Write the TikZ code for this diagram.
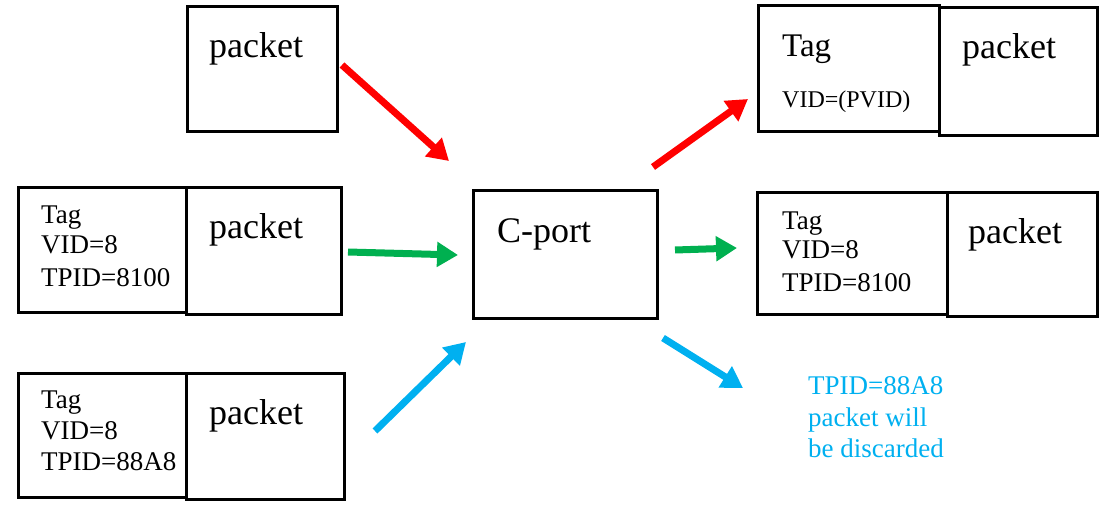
\documentclass[tikz,border=0pt]{standalone}
\usepackage{fontspec}
\setmainfont{Liberation Serif}
\usetikzlibrary{arrows.meta}
\definecolor{cred}{RGB}{255,0,0}
\definecolor{cgreen}{RGB}{0,176,80}
\definecolor{cblue}{RGB}{0,176,240}
\begin{document}
\begin{tikzpicture}[x=1pt,y=-1pt,
  box/.style={draw=black,line width=3pt,inner sep=0pt,fill=none},
  big/.style={anchor=base west,inner sep=0pt,font=\fontsize{36}{40}\selectfont},
  small/.style={anchor=base west,inner sep=0pt,font=\fontsize{27}{31}\selectfont},
  flow/.style={line width=7pt,-{Triangle[length=21pt,width=24pt]}}]
\useasboundingbox (0,0) rectangle (1120,513);
% boxes
\node[box,minimum width=150pt,minimum height=125pt] (p1) at (262,69.5) {};
\node[box,minimum width=168pt,minimum height=125pt] (t2) at (102,250.5) {};
\node[box,minimum width=155pt,minimum height=127pt] (p2) at (263.5,251.5) {};
\node[box,minimum width=168pt,minimum height=124pt] (t3) at (102,435) {};
\node[box,minimum width=158pt,minimum height=126pt] (p3) at (265,436) {};
\node[box,minimum width=184pt,minimum height=128pt] (cp) at (565,255) {};
\node[box,minimum width=181pt,minimum height=126pt] (t4) at (848.5,69) {};
\node[box,minimum width=158pt,minimum height=128pt] (p4) at (1018,72) {};
\node[box,minimum width=190pt,minimum height=122pt] (t5) at (852,254) {};
\node[box,minimum width=150pt,minimum height=124pt] (p5) at (1022,255) {};
% texts
\node[big] (p1t) at (209,58) {packet};
\node[small] (t2a) at (41,224) {Tag};
\node[small] (t2b) at (41,254) {VID=8};
\node[small] (t2c) at (41,287) {TPID=8100};
\node[big] (p2t) at (209,239) {packet};
\node[small] (t3a) at (41,408) {Tag};
\node[small] (t3b) at (41,439) {VID=8};
\node[small] (t3c) at (41,470) {TPID=88A8};
\node[big] (p3t) at (209,424) {packet};
\node[big] (cpt) at (497,243) {C-port};
\node[anchor=base west,inner sep=0pt,font=\fontsize{33}{38}\selectfont] (t4a) at (782,57) {Tag};
\node[anchor=base west,inner sep=0pt,font=\fontsize{24}{28}\selectfont] (t4b) at (782,108) {VID=(PVID)};
\node[big] (p4t) at (962,59) {packet};
\node[small] (t5a) at (782,230) {Tag};
\node[small] (t5b) at (782,259) {VID=8};
\node[small] (t5c) at (782,292) {TPID=8100};
\node[big] (p5t) at (968,244) {packet};
\node[small,text=cblue] (d1) at (808,394) {TPID=88A8};
\node[small,text=cblue] (d2) at (808,426) {packet will};
\node[small,text=cblue] (d3) at (808,457) {be discarded};
% arrow end points
\coordinate (r1s) at (342,65);  \coordinate (r1e) at (449,161);
\coordinate (g1s) at (348,252); \coordinate (g1e) at (458,255);
\coordinate (b1s) at (375,431); \coordinate (b1e) at (466,342);
\coordinate (r2s) at (653,167); \coordinate (r2e) at (748,99);
\coordinate (g2s) at (675,250); \coordinate (g2e) at (737,248);
\coordinate (b2s) at (663,338); \coordinate (b2e) at (743,388);
\draw[flow,cred] (r1s) -- (r1e);
\draw[flow,cgreen] (g1s) -- (g1e);
\draw[flow,cblue] (b1s) -- (b1e);
\draw[flow,cred] (r2s) -- (r2e);
\draw[flow,cgreen] (g2s) -- (g2e);
\draw[flow,cblue] (b2s) -- (b2e);
\end{tikzpicture}
\end{document}
